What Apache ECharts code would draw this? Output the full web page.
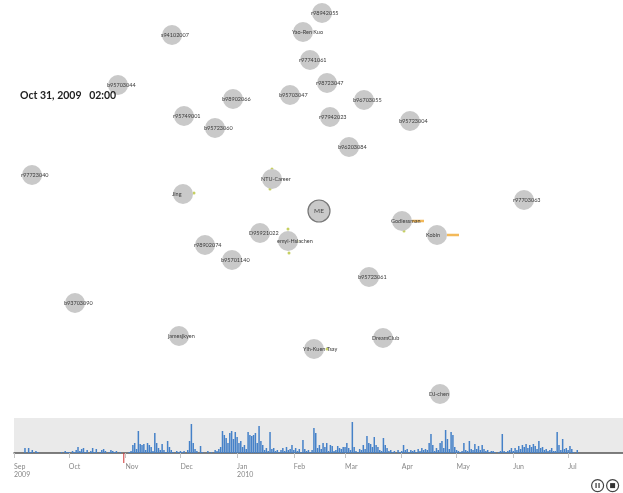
<!DOCTYPE html>
<html>
<head>
<meta charset="utf-8">
<script src="https://cdn.jsdelivr.net/npm/echarts@6/dist/echarts.min.js"></script>
<style>html,body{margin:0;padding:0;background:#fff}#c{width:623px;height:493px}</style>
</head>
<body>
<div id="c"></div>
<script>
// ---- graph nodes (layout coordinates of the social graph snapshot) ----
const nodeNames = ['r98942055','Yao-Ren Kuo','s94102007','r97741061','b95703044','r98723047','b98902066','b95703047','b96703055',
  'r95749001','r97942023','b95723004','b95723060','b96203084','r97723040','NTU-Career','Jing','ME','Godlessman','r97703063',
  'D95921022','emyi-Hsiachen','Kobin','r98902074','b95701140','b95723061','b93703090','jamesjkyen','DreamClub','Yih-Kuen Tsay','DJ-chen'];
const nodeX = [322,303,172,310,118,327,233,290,364,184,330,410,215,349,32,272,183,319,402,524,260,288,437,205,232,369,75,179,383,314,440];
const nodeY = [13,32,35,60,85,83,99,95,100,116,117,121,128,147,175,179,194,211,221,200,233,241,235,245,260,277,303,336,338,349,394];
const orangeSparks = [[418,221],[453,235]];
const greenSparks = [[272,169],[270,189],[194,193],[288,229],[289,253],[297,241],[327,349],[404,231]];
const currentTimeLabel = 'Oct 31, 2009   02:00';
const currentDay = '2009-10-31';

// ---- daily activity (Sep 2009 - Jul 2010) ----
const sepVals = [0,0,0,0,0,0,5,0,5,1,3,0,2,1,0,0,0,0,0,0,0,0,0,0,0,0,1,0,2,1];
const octVals = [1,0,2,1,3,6,2,4,5,1,3,0,2,5,1,4,0,1,3,4,2,0,1,3,2,1,2,0,1,0,0];
const novVals = [0,0,1,2,8,10,4,22,9,8,9,3,10,8,6,2,20,10,5,3,9,3,1,12,6,3,1,0,2,1];
const decVals = [2,1,2,0,3,12,29,10,4,2,0,7,1,0,0,2,0,1,0,3,2,4,6,22,18,15,10,20,22,14,21];
const janVals = [16,10,12,6,8,4,21,18,17,18,20,10,27,12,8,3,5,2,21,4,5,2,3,1,3,5,2,6,3,4,8];
const febVals = [3,5,2,4,1,13,4,2,3,1,3,25,20,5,8,4,10,6,10,2,8,7,2,3,7,5,4,6];
const marVals = [6,10,5,3,31,6,2,1,4,3,8,4,17,10,9,6,16,8,6,3,2,15,8,5,2,3,1,2,0,3,1];
const aprVals = [2,8,3,4,1,3,2,3,1,4,2,5,3,4,3,10,19,8,2,5,3,10,12,5,23,14,4,21,18,6];
const mayVals = [3,2,1,2,10,3,2,12,4,3,9,4,7,3,8,4,2,3,1,2,2,1,0,1,2,19,2,1,2,3,5];
const junVals = [2,5,3,7,4,8,6,9,5,8,6,9,7,4,12,5,6,3,4,2,3,5,2,2,21,8,3,14,4,5];
const julVals = [3,7,4,1,0,3];
const monthLabels = ['Sep\n2009','Oct','Nov','Dec','Jan\n2010','Feb','Mar','Apr','May','Jun','Jul'];

// categories: each day from 2009-09-01 to 2010-07-31
const days = [];
for (let t = Date.UTC(2009,8,1); t <= Date.UTC(2010,6,31); t += 86400000) {
  days.push(new Date(t).toISOString().slice(0,10));
}
const dailyVals = [].concat(sepVals,octVals,novVals,decVals,janVals,febVals,marVals,aprVals,mayVals,junVals,julVals);
const monthStartIdx = days.map((d,i)=> d.slice(8)==='01' ? i : -1).filter(i=>i>=0);
const labelFor = {};
monthStartIdx.forEach((i,k)=>{ labelFor[days[i]] = monthLabels[k]; });

const nodeData = nodeNames.map((n,i)=>({name:n, value:[nodeX[i], nodeY[i]]}));
const meIdx = nodeNames.indexOf('ME');

const chart = echarts.init(document.getElementById('c'), null, {renderer:'canvas'});
chart.setOption({
  animation:false,
  backgroundColor:'#fff',
  title:{text:currentTimeLabel, left:20, top:90, padding:0,
    textStyle:{fontSize:10.5, fontWeight:'bold', color:'#1e1e1e', fontFamily:'Lato'}},
  grid:[
    {left:0, top:0, width:623, height:410, show:false},
    {left:14, right:0, top:418, height:35, show:true, backgroundColor:'#eaeaea', borderWidth:0}
  ],
  xAxis:[
    {gridIndex:0, type:'value', min:0, max:623, show:false},
    {gridIndex:1, type:'category', data:days, boundaryGap:false,
      axisLine:{lineStyle:{color:'#555', width:1.5}},
      axisTick:{show:true, interval:(i,v)=>!!labelFor[v], length:5, lineStyle:{color:'#c4c4c4'}},
      axisLabel:{interval:(i,v)=>!!labelFor[v], formatter:(v)=>labelFor[v]||'', align:'left',
        fontSize:7, lineHeight:8, color:'#888', fontFamily:'Lato', margin:10}}
  ],
  yAxis:[
    {gridIndex:0, type:'value', min:0, max:410, inverse:true, show:false},
    {gridIndex:1, type:'value', min:0, max:35, show:false}
  ],
  series:[
    {type:'scatter', xAxisIndex:0, yAxisIndex:0, symbolSize:20, z:3,
      data:nodeData.map((d,i)=> i===meIdx ? Object.assign({}, d, {
          symbolSize:22,
          itemStyle:{color:'#c9c9c9', borderColor:'#777', borderWidth:1.2},
          label:{position:'inside', align:'center', fontSize:6.5, color:'#444'}}) : d),
      itemStyle:{color:'#c9c9c9', opacity:1},
      label:{show:true, formatter:'{b}', position:[-1,10], align:'left', verticalAlign:'middle',
        fontSize:5.5, color:'#3a3a3a', fontFamily:'Lato'},
      emphasis:{disabled:true}, silent:true},
    {type:'scatter', xAxisIndex:0, yAxisIndex:0, symbol:'rect', symbolSize:[12,2.5], z:2,
      itemStyle:{color:'#f0a830'}, data:orangeSparks, silent:true},
    {type:'scatter', xAxisIndex:0, yAxisIndex:0, symbolSize:3, z:2,
      itemStyle:{color:'#b8c43a'}, data:greenSparks, silent:true},
    {type:'bar', xAxisIndex:1, yAxisIndex:1, data:dailyVals, barWidth:1.5,
      itemStyle:{color:'#4581c8'}, silent:true},
    {type:'scatter', xAxisIndex:1, yAxisIndex:1, clip:false, symbol:'rect', symbolSize:[1.3,10],
      symbolOffset:[0,5], itemStyle:{color:'#d23b3b'}, data:[[currentDay,0]], z:5, silent:true}
  ],
  graphic:[
    {type:'group', left:591, top:479, children:[
      {type:'circle', shape:{cx:6.5, cy:6.5, r:6}, style:{fill:'#fff', stroke:'#444', lineWidth:1.2}},
      {type:'rect', shape:{x:4.3, y:4, width:1.3, height:5}, style:{fill:'#444'}},
      {type:'rect', shape:{x:7.3, y:4, width:1.3, height:5}, style:{fill:'#444'}},
      {type:'circle', shape:{cx:21.5, cy:6.5, r:6}, style:{fill:'#fff', stroke:'#444', lineWidth:1.2}},
      {type:'rect', shape:{x:19, y:4, width:5, height:5}, style:{fill:'#333'}}
    ]}
  ]
});
</script>
</body>
</html>
